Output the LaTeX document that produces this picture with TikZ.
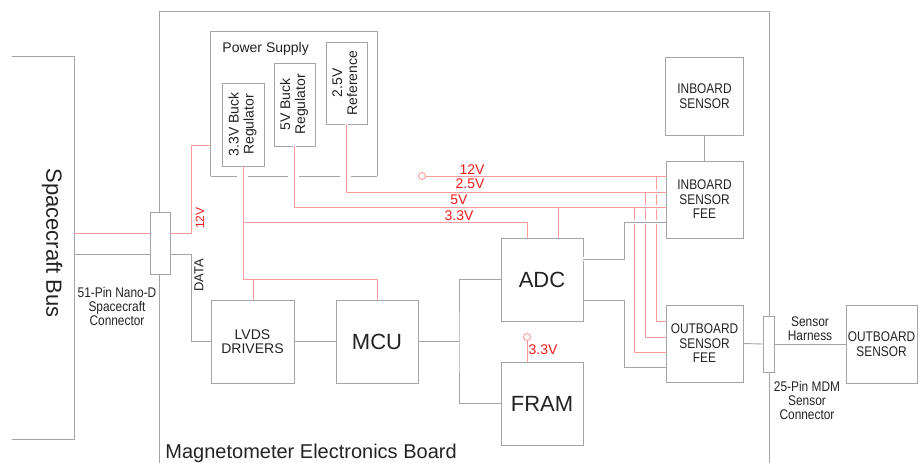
\documentclass[tikz,border=0pt]{standalone}
\usepackage{fontspec}
\setmainfont{Liberation Sans}
\newfontfamily\narrowsans[FakeStretch=0.85]{Liberation Sans}
\usepackage{xcolor}
\usepackage{tikz}
\usetikzlibrary{positioning, calc}

\definecolor{boxgrey}{RGB}{165,165,165}
\definecolor{wirered}{RGB}{255,155,155}
\definecolor{labelred}{RGB}{240,25,25}
\definecolor{inkgrey}{RGB}{35,35,35}

\newcommand{\rottext}[1]{\rotatebox{90}{\begin{tabular}{@{}c@{}}#1\end{tabular}}}

\begin{document}
\begin{tikzpicture}[x=1pt, y=-1pt, line width=0.9pt,
    block/.style={draw=boxgrey, fill=white, inner sep=0pt, align=center, text=inkgrey},
    bigblock/.style={block, minimum width=82, minimum height=83, font=\fontsize{22}{24}\selectfont},
    feeblock/.style={block, minimum width=77, minimum height=77, font=\narrowsans\fontsize{14}{14.5}\selectfont},
    regblock/.style={block, minimum width=41, minimum height=82, font=\fontsize{14}{15}\selectfont},
    plug/.style={draw=boxgrey, fill=white, inner sep=0pt},
    wire/.style={draw=boxgrey},
    pwr/.style={draw=wirered},
    hop/.style={preaction={draw=white, line width=3.5pt}},
    vlabel/.style={text=labelred, inner sep=0pt, font=\fontsize{14}{15}\selectfont},
    note/.style={text=inkgrey, align=center, inner sep=0pt, font=\narrowsans\fontsize{14}{14}\selectfont}]

    \useasboundingbox (0,0) rectangle (919,463);

    % --- BOARD OUTLINE ---
    \draw[wire] (159,463) -- (159,11) -- (769,11) -- (769,463);
    \node[anchor=base west, inner sep=0pt, text=inkgrey, font=\fontsize{20}{22}\selectfont]
        at (165,458) {Magnetometer Electronics Board};

    % --- SPACECRAFT BUS ---
    \node[inner sep=0pt, minimum width=62, minimum height=382] (bus) at (43,248) {};
    \draw[wire] (bus.north west) -- (bus.north east) -- (bus.south east) -- (bus.south west);
    \node[rotate=-90, inner sep=0pt, text=inkgrey, font=\fontsize{22}{24}\selectfont] at (52,243) {Spacecraft Bus};

    % --- POWER SUPPLY ---
    \node[inner sep=0pt, minimum width=166, minimum height=144] (psu) at (294,104) {};
    \draw[wire] (psu.south west) -- (psu.north west) -- (psu.north east) -- (psu.south east);
    \draw[wire, dash pattern=on 26.5pt off 11pt on 40pt off 11pt on 41pt off 11pt on 40pt]
        (psu.south west) -- (psu.south east);
    \node[anchor=base west, inner sep=0pt, text=inkgrey, font=\fontsize{14}{15}\selectfont]
        at (222,52.5) {Power Supply};

    \node[regblock, minimum width=42, minimum height=83] (buck33) at (243,124.5) {\rottext{3.3V Buck\\Regulator}};
    \node[regblock, minimum height=83] (buck5) at (294.5,104.5) {\rottext{5V Buck\\Regulator}};
    \node[regblock] (ref25) at (346.5,83) {\rottext{2.5V\\Reference}};

    % --- MAIN BLOCKS ---
    \node[block, minimum width=83, minimum height=83, font=\fontsize{14}{14}\selectfont] (lvds) at (252.5,341.5) {LVDS\\DRIVERS};
    \node[bigblock] (mcu) at (377,341.5) {MCU};
    \node[bigblock] (adc) at (542,279.5) {ADC};
    \node[bigblock] (fram) at (542,403.5) {FRAM};

    % --- SENSOR BLOCKS ---
    \node[feeblock, minimum width=78, minimum height=78] (ibsens) at (704.5,96) {INBOARD\\SENSOR};
    \node[feeblock] (ibfee) at (704.5,199.5) {INBOARD\\SENSOR\\FEE};
    \node[feeblock] (obfee) at (704.5,343.5) {OUTBOARD\\SENSOR\\FEE};
    \node[feeblock, minimum width=71, minimum height=78] (obsens) at (881.5,344) {OUTBOARD\\SENSOR};

    % --- CONNECTORS ---
    \node[plug, minimum width=20, minimum height=62] (conn51) at (160,243) {};
    \node[plug, minimum width=11, minimum height=56] (conn25) at (768.5,344) {};
    \node[note] at (117,306) {51-Pin Nano-D\\Spacecraft\\Connector};
    \node[note] at (810,329) {Sensor\\Harness};
    \node[note] at (807,400) {25-Pin MDM\\Sensor\\Connector};

    % --- BUS INTERFACE ---
    \coordinate (v12a) at (191,233);
    \coordinate (v12b) at (191,145);
    \coordinate (dta) at (191,254);
    \draw[pwr] (bus.east |- v12a) -- (conn51.west |- v12a);
    \draw[pwr] (conn51.east |- v12a) -- (v12a) -- (v12b) -- (psu.west |- v12b);
    \node[vlabel, rotate=90, font=\fontsize{12}{13}\selectfont] at (200,218) {12V};
    \draw[wire] (bus.east |- dta) -- (conn51.west |- dta);
    \draw[wire] (conn51.east |- dta) -- (dta) |- (lvds.west);
    \node[rotate=90, inner sep=0pt, text=inkgrey, font=\fontsize{13}{14}\selectfont] at (199,275.5) {DATA};

    % --- 3.3V RAIL ---
    \coordinate (r33) at (243,279);
    \coordinate (t33) at (253,279);
    \coordinate (s33) at (243,222);
    \coordinate (a33) at (527,222);
    \draw[pwr] (buck33.south) -- (r33) -| (mcu.north);
    \draw[pwr] (t33) -- (t33 |- lvds.north);
    \draw[pwr] (s33) -- (a33) -- (a33 |- adc.north);
    \node[vlabel] at (459,216) {3.3V};

    % --- RAILS TO SENSOR FEES ---
    \coordinate (c12) at (422,176);
    \coordinate (o12) at (656,176);
    \coordinate (s25) at (346.5,192);
    \coordinate (o25) at (645,192);
    \coordinate (s5) at (294.5,207);
    \coordinate (o5) at (634,207);
    \coordinate (a5) at (558,207);
    \draw[pwr] (c12) circle (3.5pt);
    \draw[pwr] ([xshift=3.5pt]c12) -- (c12 -| ibfee.west);
    \draw[pwr] (o12) |- ([yshift=22.5pt]obfee.west);
    \draw[pwr, hop] (ref25.south) -- (s25) -- (s25 -| ibfee.west);
    \draw[pwr] (o25) |- ([yshift=6.5pt]obfee.west);
    \draw[pwr, hop] (buck5.south) -- (s5) -- (s5 -| ibfee.west);
    \draw[pwr] (o5) |- ([yshift=-8.5pt]obfee.west);
    \draw[pwr] (a5) -- (a5 |- adc.north);
    \node[vlabel] at (472,170) {12V};
    \node[vlabel] at (470,184) {2.5V};
    \node[vlabel] at (459,200) {5V};

    % --- DATA PATHS ---
    \coordinate (g1) at (624,259);
    \coordinate (g2) at (624,300);
    \coordinate (mbus) at (459,341.5);
    \draw[wire, hop] ([yshift=20.5pt]adc.east) -- (g1) |- ([yshift=-22.5pt]ibfee.west);
    \draw[wire] ([yshift=-20.5pt]adc.east) -- (g2) |- ([yshift=-23.5pt]obfee.west);
    \draw[wire] (lvds.east) -- (mcu.west);
    \draw[wire] (mcu.east) -- (mbus);
    \draw[wire] (adc.west) -| (mbus) |- (fram.west);
    \draw[wire] (ibsens.south) -- (ibfee.north);
    \draw[wire] (obfee.east) -- (conn25.west);
    \draw[wire] (conn25.east) -- (obsens.west);

    % --- FRAM SUPPLY ---
    \coordinate (c33) at (527,337);
    \draw[pwr] (c33) circle (3.5pt);
    \draw[pwr] ([yshift=-3.5pt]c33) -- (c33 |- fram.north);
    \node[vlabel] at (543,350) {3.3V};

\end{tikzpicture}
\end{document}
